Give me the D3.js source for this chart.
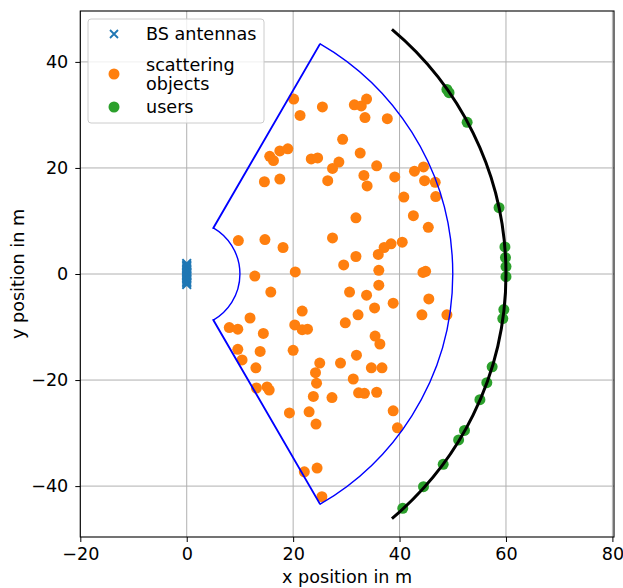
<!DOCTYPE html>
<html>
<head>
<meta charset="utf-8">
<script src="https://cdn.jsdelivr.net/npm/d3@7"></script>
<style>
body { margin: 0; background: white; }
text { font-family: "DejaVu Sans", sans-serif; }
</style>
</head>
<body>
<svg></svg>
<script>
// data
var antennaX = [0, 0, 0, 0, 0, 0, 0, 0, 0, 0, 0, 0, 0, 0, 0, 0];
var antennaY = [-2.0, -1.73, -1.47, -1.2, -0.93, -0.67, -0.4, -0.13, 0.13, 0.4, 0.67, 0.93, 1.2, 1.47, 1.73, 2.0];

var scatterX = [20.1, 25.5, 21.3, 15.6, 16.3, 17.5, 19.0, 23.4, 24.6, 28.6,
                27.4, 14.6, 17.5, 26.5, 29.3, 31.5, 32.8, 33.8, 33.5, 37.7,
                32.6, 33.3, 35.7, 33.9, 39.1, 42.8, 44.5, 44.7, 46.7, 46.8,
                40.8, 42.6, 45.4, 31.8, 27.4, 38.4, 37.1, 40.5, 36.0, 31.8,
                29.5, 36.1, 44.4, 44.9, 30.6, 33.8, 36.1, 38.8, 35.3, 32.2,
                29.8, 45.5, 44.2, 48.9, 35.4, 36.3, 31.9, 28.9, 25.0, 34.7,
                36.7, 31.3, 32.3, 33.4, 35.7, 27.3, 38.8, 39.6, 24.3, 24.5,
                25.4, 10.4, 13.0, 13.1, 15.1, 15.5, 19.3, 24.2, 24.4, 23.8,
                23.0, 22.1, 9.7, 14.7, 18.1, 12.8, 20.4, 15.8, 21.7, 11.9,
                8.0, 9.6, 14.4, 20.3, 21.7, 22.7, 9.6, 13.8, 20.0];
var scatterY = [33.0, 31.5, 29.9, 22.2, 21.4, 23.2, 23.6, 21.7, 21.9, 21.1,
                19.9, 17.4, 17.9, 17.6, 25.4, 31.9, 31.7, 33.0, 29.5, 29.3,
                22.8, 18.6, 20.4, 16.6, 18.3, 19.4, 20.2, 17.6, 17.3, 14.6,
                14.5, 11.0, 8.8, 10.6, 6.8, 5.7, 5.0, 6.0, 3.7, 3.3,
                1.7, 0.7, 0.3, 0.5, -3.4, -4.0, -2.1, -5.5, -6.4, -7.7,
                -9.2, -4.7, -7.7, -7.7, -11.7, -13.2, -15.3, -16.8, -16.8, -17.7,
                -17.7, -19.8, -22.4, -22.5, -22.3, -23.3, -25.8, -29.0, -28.3, -36.6,
                -42.0, -16.2, -17.7, -21.5, -21.3, -21.9, -26.2, -18.6, -20.6, -23.1,
                -26.0, -37.3, 6.3, 6.5, 5.0, -0.4, 0.4, -3.4, -7.0, -8.3,
                -10.1, -10.4, -11.2, -9.6, -10.5, -10.4, -14.2, -14.6, -14.4];

var userX = [48.9, 49.3, 52.7, 58.7, 59.8, 59.9, 60.0, 60.0, 59.6, 59.4,
             57.4, 56.4, 55.1, 52.2, 51.1, 48.2, 44.5, 40.6];
var userY = [34.8, 34.2, 28.6, 12.5, 5.1, 3.1, 1.4, -0.5, -6.7, -8.4,
             -17.5, -20.5, -23.7, -29.5, -31.3, -35.9, -40.1, -44.2];

var sectorRadii = [10, 50];
var sectorAngles = [-60, 60];
var userRadius = 60;
var userAngles = [-50, 50];

var xTicks = [-20, 0, 20, 40, 60, 80];
var yTicks = [-40, -20, 0, 20, 40];
var legendLabels = [["BS antennas"], ["scattering", "objects"], ["users"]];

var screen = {width: 623, height: 588};
var box = {left: 80.3, right: 614, top: 11, bottom: 537};
var fontSize = 17.6;

var blue = "#1f77b4", orange = "#ff7f0e", green = "#2ca02c";

var svg = d3.select("svg")
    .attr("width", screen.width)
    .attr("height", screen.height);

var xScale = d3.scaleLinear()
    .domain([-20, 80.3])
    .range([box.left, box.right]);

var yScale = d3.scaleLinear()
    .domain([-49.6, 49.6])
    .range([box.bottom, box.top]);

var pxPerUnit = xScale(1) - xScale(0);
var fmt = function(d){ return d < 0 ? "\u2212" + Math.abs(d) : "" + d; };

// grid
svg.append("g").selectAll("line.gx")
    .data(xTicks)
    .enter().append("line")
    .attr("x1", function(d){ return xScale(d); })
    .attr("x2", function(d){ return xScale(d); })
    .attr("y1", box.top).attr("y2", box.bottom)
    .attr("stroke", "#b0b0b0").attr("stroke-width", 1);

svg.append("g").selectAll("line.gy")
    .data(yTicks)
    .enter().append("line")
    .attr("y1", function(d){ return yScale(d); })
    .attr("y2", function(d){ return yScale(d); })
    .attr("x1", box.left).attr("x2", box.right)
    .attr("stroke", "#b0b0b0").attr("stroke-width", 1);

// axes
var xAxis = d3.axisBottom(xScale).tickValues(xTicks).tickFormat(fmt).tickSize(5).tickPadding(6);
var yAxis = d3.axisLeft(yScale).tickValues(yTicks).tickFormat(fmt).tickSize(5).tickPadding(7);

svg.append("g")
    .attr("transform", "translate(0," + box.bottom + ")")
    .call(xAxis)
    .call(function(g){ g.select(".domain").remove(); });

svg.append("g")
    .attr("transform", "translate(" + box.left + ",0)")
    .call(yAxis)
    .call(function(g){ g.select(".domain").remove(); });

svg.selectAll(".tick text")
    .attr("font-size", fontSize)
    .attr("font-family", "DejaVu Sans")
    .attr("fill", "#000");
svg.selectAll(".tick line").attr("stroke", "#000").attr("stroke-width", 1);

// scattering objects
svg.append("g").selectAll("circle")
    .data(scatterX)
    .enter().append("circle")
    .attr("cx", function(d){ return xScale(d); })
    .attr("cy", function(d, i){ return yScale(scatterY[i]); })
    .attr("r", 5.5)
    .attr("fill", orange);

// users
svg.append("g").selectAll("circle")
    .data(userX)
    .enter().append("circle")
    .attr("cx", function(d){ return xScale(d); })
    .attr("cy", function(d, i){ return yScale(userY[i]); })
    .attr("r", 5.5)
    .attr("fill", green);

// sector outline
var cx = xScale(0), cy = yScale(0);
var rad = function(a){ return a * Math.PI / 180; };
var pt = function(r, a){ return [xScale(r * Math.cos(rad(a))), yScale(r * Math.sin(rad(a)))]; };

sectorAngles.forEach(function(a){
    var p0 = pt(sectorRadii[0], a), p1 = pt(sectorRadii[1], a);
    svg.append("line")
        .attr("x1", p0[0]).attr("y1", p0[1])
        .attr("x2", p1[0]).attr("y2", p1[1])
        .attr("stroke", "blue").attr("stroke-width", 1.9)
        .attr("stroke-linecap", "round");
});

sectorRadii.forEach(function(r){
    var p = d3.path();
    p.arc(cx, cy, r * pxPerUnit, rad(-sectorAngles[1]), rad(-sectorAngles[0]), false);
    svg.append("path")
        .attr("d", p.toString())
        .attr("fill", "none")
        .attr("stroke", "blue")
        .attr("stroke-width", 1.4);
});

// user arc
var ua = d3.path();
ua.arc(cx, cy, userRadius * pxPerUnit, rad(-userAngles[1]), rad(-userAngles[0]), false);
svg.append("path")
    .attr("d", ua.toString())
    .attr("fill", "none")
    .attr("stroke", "black")
    .attr("stroke-width", 3);

// BS antennas
var xMark = function(g, x, y, s, w){
    g.append("path")
        .attr("d", "M" + (x - s) + "," + (y - s) + "L" + (x + s) + "," + (y + s) +
                   "M" + (x - s) + "," + (y + s) + "L" + (x + s) + "," + (y - s))
        .attr("stroke", blue)
        .attr("stroke-width", w)
        .attr("fill", "none");
};
var antG = svg.append("g");
antennaX.forEach(function(d, i){
    xMark(antG, xScale(d), yScale(antennaY[i]), 4.3, 1.9);
});

// frame
svg.append("rect")
    .attr("x", box.left).attr("y", box.top)
    .attr("width", box.right - box.left)
    .attr("height", box.bottom - box.top)
    .attr("fill", "none")
    .attr("stroke", "#000")
    .attr("stroke-width", 1.1);

// axis labels
svg.append("text")
    .attr("x", (box.left + box.right) / 2)
    .attr("y", 583)
    .attr("text-anchor", "middle")
    .attr("font-size", fontSize)
    .text("x position in m");

svg.append("text")
    .attr("transform", "translate(24," + ((box.top + box.bottom) / 2) + ") rotate(-90)")
    .attr("text-anchor", "middle")
    .attr("font-size", fontSize)
    .text("y position in m");

// legend
var leg = svg.append("g");
leg.append("rect")
    .attr("x", 88).attr("y", 19)
    .attr("width", 176).attr("height", 104)
    .attr("rx", 3)
    .attr("fill", "white").attr("fill-opacity", 0.8)
    .attr("stroke", "#cccccc");

var legY = [34, 74, 107];
xMark(leg, 114, legY[0], 4, 1.8);
leg.append("circle").attr("cx", 114).attr("cy", legY[1]).attr("r", 5.5).attr("fill", orange);
leg.append("circle").attr("cx", 114).attr("cy", legY[2]).attr("r", 5.5).attr("fill", green);

legendLabels.forEach(function(lines, i){
    var top = legY[i] + 6 - (lines.length - 1) * 9.5;
    lines.forEach(function(s, j){
        leg.append("text")
            .attr("x", 146)
            .attr("y", top + j * 19)
            .attr("font-size", fontSize)
            .text(s);
    });
});
</script>
</body>
</html>
